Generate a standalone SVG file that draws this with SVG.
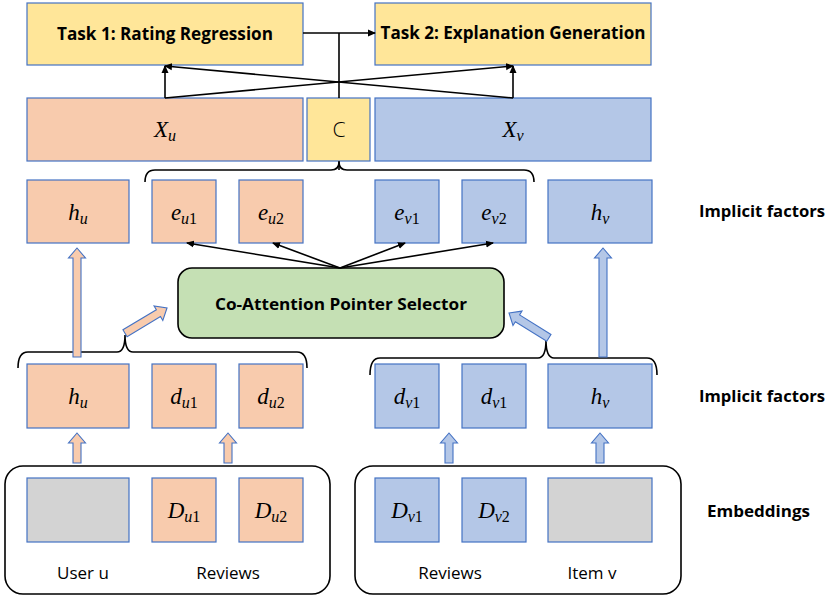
<svg xmlns="http://www.w3.org/2000/svg" width="830" height="598" viewBox="0 0 830 598">
  <defs>
    <style>
      .box { stroke: #4472C4; stroke-width: 1.2; }
      .or { fill: #F8CBAD; }
      .bl { fill: #B4C7E7; }
      .ye { fill: #FFE699; }
      .gr { fill: #D3D3D3; }
      .math { font-family: "Liberation Serif", "DejaVu Serif", serif; font-style: italic; font-size: 23px; fill: #000; text-anchor: middle; }
      .sub { font-size: 16px; }
      .num { font-style: normal; }
      .bold { font-family: "Open Sans", "Liberation Sans", sans-serif; font-weight: bold; fill: #000; }
      .label { font-family: "Open Sans", "Liberation Sans", sans-serif; font-size: 17px; fill: #000; text-anchor: middle; }
      .line { fill: none; stroke: #000; stroke-width: 1.6; }
      .brace { fill: none; stroke: #000; stroke-width: 1.6; }
      .barrow { stroke: #4472C4; stroke-width: 1.1; stroke-linejoin: miter; }
      .cont { fill: none; stroke: #000; stroke-width: 1.6; }
    </style>
    <marker id="ah" markerWidth="8" markerHeight="8" refX="7" refY="4" orient="auto" markerUnits="userSpaceOnUse">
      <path d="M0,0.5 L8,4 L0,7.5 Z" fill="#000"/>
    </marker>
  </defs>

  <!-- task boxes -->
  <g id="task1">
    <rect class="box ye" x="27" y="3" width="276" height="62"/>
    <text class="bold" x="165" y="40" font-size="17" text-anchor="middle" textLength="216" lengthAdjust="spacingAndGlyphs">Task 1: Rating Regression</text>
  </g>
  <g id="task2">
    <rect class="box ye" x="375" y="3" width="276" height="62"/>
    <text class="bold" x="513" y="39" font-size="17" text-anchor="middle" textLength="265" lengthAdjust="spacingAndGlyphs">Task 2: Explanation Generation</text>
  </g>

  <!-- joint representation row -->
  <g id="Xu">
    <rect class="box or" x="27" y="98" width="276" height="63"/>
    <text class="math" x="165" y="137">X<tspan class="sub" dy="4">u</tspan></text>
  </g>
  <g id="C">
    <rect class="box ye" x="307" y="98" width="63" height="63"/>
    <text class="label" x="339" y="137" style="font-size:21px;font-weight:300">C</text>
  </g>
  <g id="Xv">
    <rect class="box bl" x="375" y="98" width="276" height="63"/>
    <text class="math" x="513" y="137">X<tspan class="sub" dy="4">v</tspan></text>
  </g>

  <!-- upper implicit factors -->
  <g id="hu_top">
    <rect class="box or" x="27" y="180" width="102" height="63"/>
    <text class="math" x="78" y="220">h<tspan class="sub" dy="4">u</tspan></text>
  </g>
  <g id="eu1">
    <rect class="box or" x="152" y="180" width="64" height="63"/>
    <text class="math" x="184" y="220">e<tspan class="sub" dy="4">u<tspan class="num">1</tspan></tspan></text>
  </g>
  <g id="eu2">
    <rect class="box or" x="239" y="180" width="64" height="63"/>
    <text class="math" x="271" y="220">e<tspan class="sub" dy="4">u<tspan class="num">2</tspan></tspan></text>
  </g>
  <g id="ev1">
    <rect class="box bl" x="375" y="180" width="64" height="63"/>
    <text class="math" x="407" y="220">e<tspan class="sub" dy="4">v<tspan class="num">1</tspan></tspan></text>
  </g>
  <g id="ev2">
    <rect class="box bl" x="462" y="180" width="64" height="63"/>
    <text class="math" x="494" y="220">e<tspan class="sub" dy="4">v<tspan class="num">2</tspan></tspan></text>
  </g>
  <g id="hv_top">
    <rect class="box bl" x="548" y="180" width="104" height="63"/>
    <text class="math" x="600" y="220">h<tspan class="sub" dy="4">v</tspan></text>
  </g>

  <!-- co-attention -->
  <g id="coattention">
    <rect x="178" y="268" width="326" height="70" rx="14" fill="#C5E0B4" stroke="#000" stroke-width="1.6"/>
    <text class="bold" x="341" y="310" font-size="16" text-anchor="middle" textLength="252" lengthAdjust="spacingAndGlyphs">Co-Attention Pointer Selector</text>
  </g>

  <!-- lower implicit factors -->
  <g id="hu">
    <rect class="box or" x="27" y="364" width="102" height="64"/>
    <text class="math" x="78" y="404">h<tspan class="sub" dy="4">u</tspan></text>
  </g>
  <g id="du1">
    <rect class="box or" x="152" y="364" width="64" height="64"/>
    <text class="math" x="184" y="404">d<tspan class="sub" dy="4">u<tspan class="num">1</tspan></tspan></text>
  </g>
  <g id="du2">
    <rect class="box or" x="239" y="364" width="64" height="64"/>
    <text class="math" x="271" y="404">d<tspan class="sub" dy="4">u<tspan class="num">2</tspan></tspan></text>
  </g>
  <g id="dv1">
    <rect class="box bl" x="375" y="364" width="64" height="64"/>
    <text class="math" x="407" y="404">d<tspan class="sub" dy="4">v<tspan class="num">1</tspan></tspan></text>
  </g>
  <g id="dv1b">
    <rect class="box bl" x="462" y="364" width="64" height="64"/>
    <text class="math" x="494" y="404">d<tspan class="sub" dy="4">v<tspan class="num">1</tspan></tspan></text>
  </g>
  <g id="hv">
    <rect class="box bl" x="548" y="364" width="104" height="64"/>
    <text class="math" x="600" y="404">h<tspan class="sub" dy="4">v</tspan></text>
  </g>

  <!-- embeddings -->
  <g id="user_embeddings">
    <rect class="cont" x="5" y="466" width="325" height="128" rx="18"/>
    <rect class="box gr" x="27" y="478" width="102" height="64"/>
    <rect class="box or" x="152" y="478" width="64" height="64"/>
    <text class="math" x="184" y="518">D<tspan class="sub" dy="4">u<tspan class="num">1</tspan></tspan></text>
    <rect class="box or" x="239" y="478" width="64" height="64"/>
    <text class="math" x="271" y="518">D<tspan class="sub" dy="4">u<tspan class="num">2</tspan></tspan></text>
    <text class="label" x="83" y="579">User u</text>
    <text class="label" x="228" y="579">Reviews</text>
  </g>
  <g id="item_embeddings">
    <rect class="cont" x="355" y="466" width="326" height="128" rx="18"/>
    <rect class="box bl" x="375" y="478" width="64" height="64"/>
    <text class="math" x="407" y="518">D<tspan class="sub" dy="4">v<tspan class="num">1</tspan></tspan></text>
    <rect class="box bl" x="462" y="478" width="64" height="64"/>
    <text class="math" x="494" y="518">D<tspan class="sub" dy="4">v<tspan class="num">2</tspan></tspan></text>
    <rect class="box gr" x="548" y="478" width="104" height="64"/>
    <text class="label" x="450" y="579">Reviews</text>
    <text class="label" x="592" y="579">Item v</text>
  </g>

  <!-- row labels -->
  <g id="row_labels">
    <text class="bold" x="699" y="217" font-size="16" textLength="126" lengthAdjust="spacingAndGlyphs">Implicit factors</text>
    <text class="bold" x="699" y="402" font-size="16" textLength="126" lengthAdjust="spacingAndGlyphs">Implicit factors</text>
    <text class="bold" x="707" y="517" font-size="16" textLength="103" lengthAdjust="spacingAndGlyphs">Embeddings</text>
  </g>

  <!-- connectors -->
  <g id="connectors">
    <!-- task link and concatenation -->
    <line class="line" x1="303" y1="33" x2="375" y2="33" marker-end="url(#ah)"/>
    <line class="line" x1="339" y1="33" x2="339" y2="98"/>
    <line class="line" x1="339" y1="170" x2="339" y2="161"/>
    <!-- representation to tasks -->
    <line class="line" x1="165" y1="98" x2="165" y2="66" marker-end="url(#ah)"/>
    <line class="line" x1="165" y1="98" x2="513" y2="66" marker-end="url(#ah)"/>
    <line class="line" x1="513" y1="98" x2="513" y2="66" marker-end="url(#ah)"/>
    <line class="line" x1="513" y1="98" x2="165" y2="66" marker-end="url(#ah)"/>
    <!-- pointer selections -->
    <line class="line" x1="340" y1="268" x2="187" y2="243" marker-end="url(#ah)"/>
    <line class="line" x1="340" y1="268" x2="273" y2="243" marker-end="url(#ah)"/>
    <line class="line" x1="340" y1="268" x2="405" y2="243" marker-end="url(#ah)"/>
    <line class="line" x1="340" y1="268" x2="493" y2="243" marker-end="url(#ah)"/>

    <!-- braces -->
    <path class="brace" d="M145,182 Q145,170 155,170 L331,170 Q339,170 339,162 Q339,170 347,170 L524,170 Q534,170 534,182"/>
    <path class="brace" d="M18,368 Q18,352 28,352 L117,352 Q125,352 125,335 Q125,352 133,352 L297,352 Q307,352 307,368"/>
    <path class="brace" d="M370,375 Q370,358 380,358 L538,358 Q546,358 546,340 Q546,358 554,358 L647,358 Q657,358 657,375"/>

    <!-- block arrows -->
    <polygon class="barrow or" transform="translate(77,248)" points="0,0 8.5,10 4,10 4,109 -4,109 -4,10 -8.5,10"/>
    <polygon class="barrow bl" transform="translate(603,248)" points="0,0 8.5,10 4,10 4,109 -4,109 -4,10 -8.5,10"/>
    <polygon class="barrow or" transform="translate(167,308) rotate(59)" points="0,0 8.5,10 4,10 4,49 -4,49 -4,10 -8.5,10"/>
    <polygon class="barrow bl" transform="translate(509,313) rotate(-58)" points="0,0 8.5,10 4,10 4,47 -4,47 -4,10 -8.5,10"/>
    <polygon class="barrow or" transform="translate(77,433)" points="0,0 8.5,10 4,10 4,30 -4,30 -4,10 -8.5,10"/>
    <polygon class="barrow or" transform="translate(228,433)" points="0,0 8.5,10 4,10 4,30 -4,30 -4,10 -8.5,10"/>
    <polygon class="barrow bl" transform="translate(449,433)" points="0,0 8.5,10 4,10 4,30 -4,30 -4,10 -8.5,10"/>
    <polygon class="barrow bl" transform="translate(600,433)" points="0,0 8.5,10 4,10 4,30 -4,30 -4,10 -8.5,10"/>
  </g>
</svg>
